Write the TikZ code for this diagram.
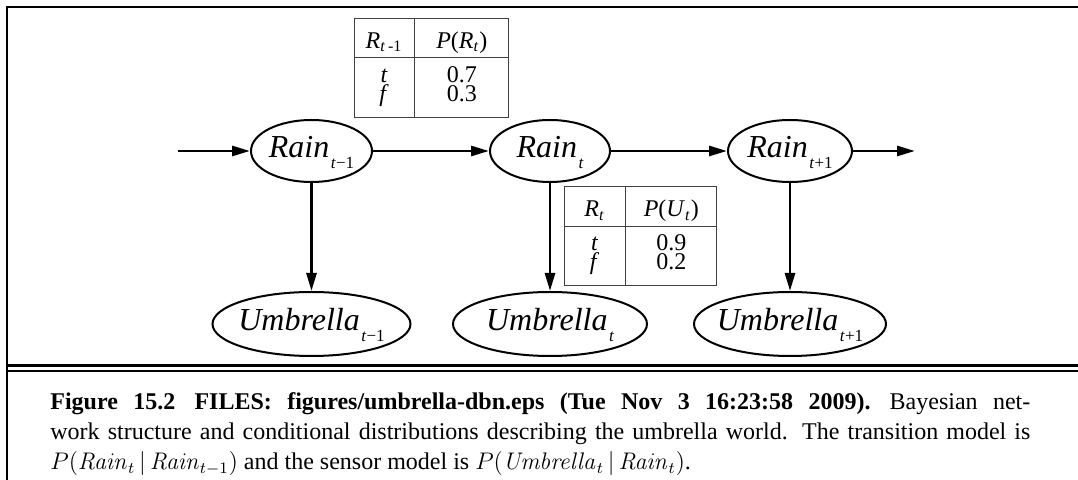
\documentclass[tikz,border=0pt]{standalone}
\usepackage[no-math]{fontspec}
\setmainfont{Liberation Serif}
\usepackage{array}
\usepackage{colortbl}
\usetikzlibrary{arrows.meta, positioning, shapes.geometric}

\newcolumntype{C}[1]{>{\centering\arraybackslash}p{#1}}
\newcommand{\rvsub}[1]{\kern0.8pt\raisebox{-5.5pt}{\fontsize{8.5}{9}\selectfont #1}}
\newcommand{\cptsetup}{\def\arraystretch{0}\setlength{\tabcolsep}{0pt}%
  \setlength{\arrayrulewidth}{0.6pt}\arrayrulecolor{black!75}}
\newcommand{\cpthead}{\rule[-4.5pt]{0pt}{19.5pt}}
\newcommand{\cptrowa}{\rule[-1pt]{0pt}{13pt}}
\newcommand{\cptrowb}{\rule[-8pt]{0pt}{16pt}}

\begin{document}
\begin{tikzpicture}[
    x=0.5pt, y=-0.5pt,
    rain/.style={draw, ellipse, line width=1pt, inner sep=0pt, minimum height=31pt,
                 text height=7pt, text depth=0pt, font=\fontsize{16}{18}\selectfont\itshape},
    umb/.style={rain, minimum height=32pt},
    cpt/.style={draw=black!75, line width=0.6pt, inner sep=0pt,
                font=\fontsize{12}{12}\selectfont\cptsetup},
    arrow/.style={-{Triangle[length=9pt, width=5pt]}, line width=1.4pt},
    caption/.style={text width=490pt, align=justify, inner sep=0pt,
                    font=\fontsize{12}{15}\selectfont},
    node distance=54pt and 58pt
]
\useasboundingbox (0,0) rectangle (1078,480);

% frame and rules
\draw[line width=1pt] (7,480) -- (7,7) -- (1078,7);
\draw[line width=1.5pt] (7,366) -- (1078,366);
\draw[line width=0.7pt] (7,371) -- (1078,371);

% state variables
\node[rain, minimum width=60.5pt] (r0) at (311.5,151) {\makebox[0pt]{Rain\rvsub{t\textup{−1}}}};
\node[rain, minimum width=60pt, right=of r0] (r1) {\makebox[0pt]{Rain\rvsub{t}}};
\node[rain, minimum width=62pt, right=of r1] (r2) {\makebox[0pt]{Rain\rvsub{t\textup{+1}}}};

% evidence variables
\node[umb, minimum width=99pt, below=of r0] (u0) {\makebox[0pt]{Umbrella\rvsub{t\textup{−1}}}};
\node[umb, minimum width=97pt, below=of r1] (u1) {\makebox[0pt]{Umbrella\rvsub{t}}};
\node[umb, minimum width=96pt, below=of r2] (u2) {\makebox[0pt]{Umbrella\rvsub{t\textup{+1}}}};

\coordinate[left=36pt of r0] (in);
\coordinate[right=31pt of r2] (out);

% conditional probability tables
\node[cpt, above right=0.5pt and 21pt of r0.north] (cpt0) {%
  \begin{tabular}{C{30pt}|C{46.5pt}}
    \cpthead\textit{R}\textsubscript{\textit{t}\kern1.5pt-1} & \textit{P}(\textit{R}\textsubscript{\textit{t}}) \\ \hline
    \cptrowa\textit{t} & 0.7 \\
    \cptrowb\textit{f} & 0.3 \\
  \end{tabular}};
\node[cpt, below right=1.5pt and 7pt of r1.south] (cpt1) {%
  \begin{tabular}{C{30pt}|C{45.5pt}}
    \cpthead\textit{R}\textsubscript{\textit{t}} & \textit{P}(\textit{U}\textsubscript{\textit{t}}) \\ \hline
    \cptrowa\textit{t} & 0.9 \\
    \cptrowb\textit{f} & 0.2 \\
  \end{tabular}};

\draw[arrow] (in) -- (r0);
\draw[arrow] (r0) -- (r1);
\draw[arrow] (r1) -- (r2);
\draw[arrow] (r2) -- (out);
\draw[arrow] (r0) -- (u0);
\draw[arrow] (r1) -- (u1);
\draw[arrow] (r2) -- (u2);

% caption
\node[caption, anchor=base west] (cap) at (50,410) {%
  \textbf{Figure 15.2\hspace{0.8em}FILES: figures/umbrella-dbn.eps (Tue Nov 3 16:23:58 2009).}\hspace{0.8em}Bayesian
  net-\linebreak work structure and conditional distributions describing the umbrella world.  The transition model is\linebreak
  $P(\mathit{Rain}_t\,|\,\mathit{Rain}_{t-1})$ and the sensor model is $P(\mathit{Umbrella}_t\,|\,\mathit{Rain}_t)$.};
\end{tikzpicture}
\end{document}
